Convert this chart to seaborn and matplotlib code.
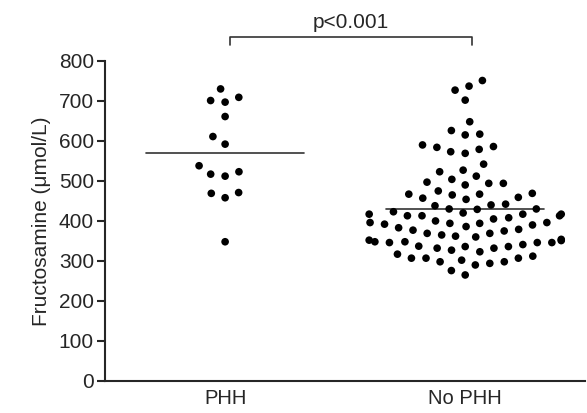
import matplotlib
matplotlib.use('Agg')
import matplotlib.pyplot as plt
import numpy as np
import pandas as pd
import seaborn as sns

groups = ['PHH', 'No PHH']
phh = [730, 709, 701, 697, 661, 611, 592, 538, 523, 512, 517, 469, 458, 471, 348]
no_phh = [751, 737, 727, 702, 648, 615, 626, 617, 590, 586, 569, 579, 584, 573,
          542, 523, 527, 504, 512, 494, 490, 494, 497,
          469, 467, 465, 467, 475, 457, 442, 438, 430, 423, 429, 430, 440, 454, 459,
          413, 400, 396, 417, 417, 417, 413, 408, 413,
          394, 379, 390, 375, 386, 369, 392, 377, 394, 396,
          369, 362, 351, 348, 346, 346, 337, 348, 346, 352, 354, 365,
          336, 332, 323, 307, 298, 307, 290, 302, 307, 317, 298, 327, 332, 336,
          265, 276, 420, 405, 383, 360, 341, 312, 294]
p_text = 'p<0.001'

df = pd.DataFrame({
    'group': [groups[0]] * len(phh) + [groups[1]] * len(no_phh),
    'value': phh + no_phh,
})

sns.set_style('ticks')
plt.rcParams['font.family'] = ['Liberation Sans', 'DejaVu Sans']

fig = plt.figure(figsize=(5.87, 4.13), dpi=100)
ax = fig.add_axes([0.179, 0.0775, 0.818, 0.775])

# the wide invisible edge spreads the dots out like the prism layout
sns.swarmplot(data=df, x='group', y='value', order=groups, color='black',
              size=5.5, linewidth=4.5, edgecolor='none', ax=ax)
for coll in ax.collections:
    coll.set_edgecolor('none')

means = df.groupby('group')['value'].mean()
for i, g in enumerate(groups):
    ax.plot([i - 0.33, i + 0.33], [means[g], means[g]], color='#333333', lw=1.2, zorder=1)

# significance bracket
ax.plot([0.02, 0.02, 1.03, 1.03], [840, 861, 861, 840], color='#333333', lw=1.2, clip_on=False)
ax.text(0.525, 882, p_text, ha='center', va='baseline', fontsize=15)

ax.set_xlim(-0.5, 1.5)
ax.set_ylim(0, 800)
ax.set_yticks(np.arange(0, 801, 100))
ax.set_xlabel('')
ax.set_ylabel('Fructosamine (μmol/L)', fontsize=15, labelpad=6)
ax.tick_params(axis='y', labelsize=15, length=6, width=1.5, pad=2)
ax.tick_params(axis='x', labelsize=14.5, length=0, pad=6)
sns.despine(ax=ax)
for s in ['left', 'bottom']:
    ax.spines[s].set_linewidth(1.5)

plt.savefig('out.png', dpi=100)
plt.close()
